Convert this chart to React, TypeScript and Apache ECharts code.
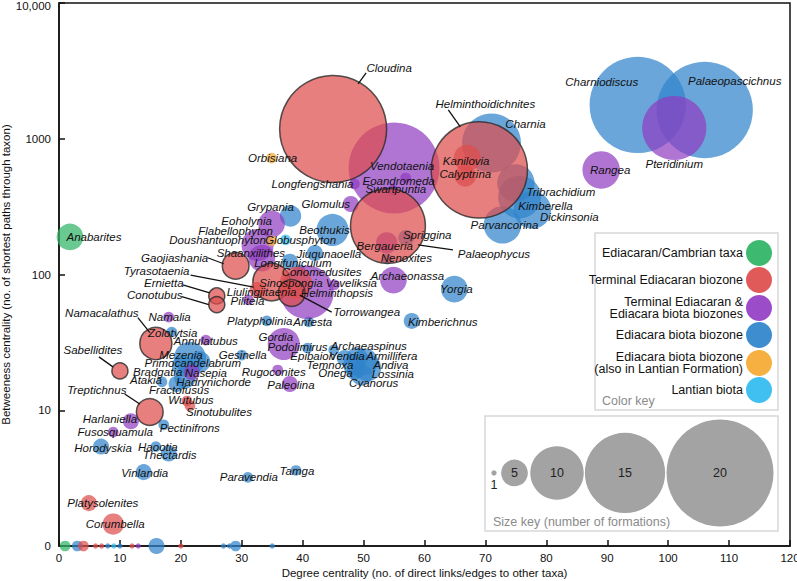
import React, { useEffect, useRef } from "react";
import * as echarts from "echarts";

// ---------- DATA ----------
// [name, degree centrality, betweenness centrality, number of formations]
type Taxon = [string, number, number, number];

const groupNames = [
  "Ediacaran/Cambrian taxa",
  "Terminal Ediacaran biozone",
  "Terminal Ediacaran &\nEdiacara biota biozones",
  "Ediacara biota biozone",
  "Ediacara biota biozone\n(also in Lantian Formation)",
  "Lantian biota",
];
const groupColors = ["#3dba6f", "#e05a5a", "#9b4cc8", "#3d8dcf", "#f5b041", "#3fc0f0"];
const groupFill = [
  "rgba(52,182,104,0.92)",
  "rgba(222,78,78,0.9)",
  "rgba(143,60,192,0.88)",
  "rgba(48,132,202,0.9)",
  "rgba(245,172,55,0.92)",
  "rgba(55,188,240,0.92)",
];

const ediacaranCambrian: Taxon[] = [
  ["Anabarites", 1.8, 189, 5],
  ["", 1, 0, 2],
];

const terminalEdiacaran: Taxon[] = [
  ["Cloudina", 45, 1180, 20],
  ["Helminthoidichnites", 69, 589, 18],
  ["Palaeophycus", 54, 228, 14],
  ["Kanilovia", 67, 721, 5],
  ["Calyptrina", 66.7, 532, 4],
  ["Gaojiashania", 29, 116, 5],
  ["Tyrasotaenia", 34.9, 88, 7],
  ["Sinospongia", 38.9, 87, 6],
  ["Torrowangea", 38.2, 73, 5],
  ["Liulingjitaenia", 32.6, 77, 3],
  ["Ernietta", 25.9, 69.5, 3],
  ["Conotubus", 25.9, 60, 3],
  ["Namacalathus", 15.9, 31, 6],
  ["Wutubus", 21, 11.7, 2],
  ["Sinotubulites", 21.5, 10.8, 2],
  ["Sabellidites", 10, 19.5, 3],
  ["Treptichnus", 14.9, 9.7, 5],
  ["Platysolenites", 4.9, 2.07, 3],
  ["Corumbella", 8.9, 1.45, 4],
  ["", 4, 0, 2],
  ["", 6, 0, 1],
  ["", 7, 0, 1],
  ["", 12, 0, 1],
  ["", 20, 0, 1],
];

const terminalAndEdiacara: Taxon[] = [
  ["Vendotaenia", 55, 609, 17],
  ["Pteridinium", 101, 1200, 12],
  ["Rangea", 89, 589, 7],
  ["Eoandromeda", 56.9, 514, 2],
  ["Swartpuntia", 54.8, 419, 2],
  ["Longfengshania", 48.5, 464, 2],
  ["Glomulus", 47.9, 331, 3],
  ["Bergaueria", 53.8, 171, 4],
  ["Eoholynia", 34.9, 236, 5],
  ["Flabellophyton", 32.6, 165, 6],
  ["Shaanxilithes", 33.3, 132, 5],
  ["Helminthopsis", 40.7, 74, 10],
  ["Vaveliksia", 45.2, 84, 2],
  ["Pilitela", 31.1, 65, 2],
  ["Namalia", 18, 48.6, 2],
  ["Annulatubus", 24.1, 32.9, 2],
  ["Archaeonassa", 54.9, 91, 5],
  ["Gordia", 36.9, 30.8, 6],
  ["Rugoconites", 35.9, 19.8, 2],
  ["Paleolina", 37.9, 15.6, 3],
  ["Nasepia", 21.8, 19.1, 3],
  ["Harlaniella", 11.8, 8.3, 3],
  ["Fusosquamula", 8.9, 6.9, 2],
  ["", 13, 0, 1],
];

const ediacaraBiota: Taxon[] = [
  ["Charniodiscus", 95, 1774, 18],
  ["Palaeopascichnus", 106, 1629, 18],
  ["Charnia", 71, 931, 11],
  ["Tribrachidium", 75, 472, 7],
  ["Kimberella", 75.6, 372, 8],
  ["Dickinsonia", 77.7, 299, 7],
  ["Parvancorina", 72.8, 232, 7],
  ["Spriggina", 57, 186, 3],
  ["Nenoxites", 53.9, 130, 2],
  ["Grypania", 38, 270, 4],
  ["Jiuqunaoella", 42, 144, 3],
  ["Beothukis", 44.9, 213, 6],
  ["Longifuniculum", 37.9, 124, 3],
  ["Conomedusites", 39.5, 108, 2],
  ["Zolotytsia", 18.5, 37.7, 2],
  ["Platypholinia", 34.1, 45.5, 2],
  ["Anfesta", 41, 44.7, 2],
  ["Kimberichnus", 57.9, 45.5, 3],
  ["Yorgia", 64.9, 78, 5],
  ["Podolimirus", 40.8, 28.7, 2],
  ["Archaeaspinus", 45.1, 27.8, 2],
  ["Epibaion", 46.9, 24.3, 3],
  ["Vendia", 48.9, 24.3, 4],
  ["Armillifera", 50.2, 22.7, 5],
  ["Temnoxa", 48.4, 21.5, 4],
  ["Andiva", 50.7, 20.5, 5],
  ["Onega", 48.5, 19.1, 3],
  ["Lossinia", 49.7, 18.2, 4],
  ["Cyanorus", 49.2, 19.1, 2],
  ["Gesinella", 30, 25.5, 2],
  ["Mezenia", 21.5, 24.3, 6],
  ["Primocandelabrum", 23.1, 22.7, 4],
  ["Bradgatia", 20.3, 21.2, 4],
  ["Atakia", 16.9, 16.2, 2],
  ["Hadrynichorde", 19.3, 15.6, 3],
  ["Fractofusus", 20.7, 17.3, 4],
  ["Pectinifrons", 17.2, 7.8, 2],
  ["Horodyskia", 6.9, 5.4, 3],
  ["Haootia", 15.9, 5.4, 2],
  ["Thectardis", 18, 4.8, 3],
  ["Vinlandia", 13.9, 3.5, 3],
  ["Paravendia", 31, 3.2, 2],
  ["Tamga", 38.9, 3.6, 2],
  ["", 3, 0, 2],
  ["", 8, 0, 1],
  ["", 10, 0, 1],
  ["", 16, 0, 3],
  ["", 27, 0, 1],
  ["", 28, 0, 1],
  ["", 29, 0, 2],
  ["", 35, 0, 1],
];

const ediacaraLantian: Taxon[] = [
  ["Orbisiana", 34.9, 721, 2],
  ["Doushantuophyton", 34.9, 177, 2],
];

const lantianBiota: Taxon[] = [
  ["Globusphyton", 37.2, 180, 2],
  ["", 9, 0, 1],
];

const xTicks = [0, 120, 10];
const yTickLabels: Record<number, string> = { 1: "0", 10: "10", 100: "100", 1000: "1000", 10000: "10,000" };
const sizeKeyValues = [1, 5, 10, 15, 20];

// ---------- LABEL PLACEMENT (pixel offsets of label centre from bubble centre) ----------
const labelOffset: Record<string, [number, number]> = {
  Charniodiscus: [-36, -23], Palaeopascichnus: [30, -29], Pteridinium: [0, 36], Rangea: [9, 0],
  Cloudina: [56, -61], Vendotaenia: [8, -2], Helminthoidichnites: [6, -66], Charnia: [34, -19],
  Kanilovia: [-1, 3], Calyptrina: [0, -2], Tribrachidium: [45, 9], Kimberella: [26, 9],
  Dickinsonia: [37, 7], Parvancorina: [2, 0], Palaeophycus: [106, 28], Spriggina: [21, -3],
  Bergaueria: [-2, 3], Nenoxites: [19, -1], Eoandromeda: [-7, 3], Swartpuntia: [3, -1],
  Longfengshania: [-42, 0], Glomulus: [-25, 0], Orbisiana: [1, 0], Grypania: [-20, -9],
  Eoholynia: [-25, -3], Flabellophyton: [-22, -14], Doushantuophyton: [-54, -1], Globusphyton: [15, 0],
  Shaanxilithes: [-11, -5], Gaojiashania: [-61, -8], Jiuqunaoella: [14, 1], Beothukis: [-8, 0],
  Longifuniculum: [3, 1], Conomedusites: [22, 2], Tyrasotaenia: [-115, -11], Sinospongia: [-5, 0],
  Helminthopsis: [30, 1], Torrowangea: [75, 19], Vaveliksia: [17, -2], Liulingjitaenia: [4, 2],
  Pilitela: [-1, 1], Ernietta: [-53, -13], Conotubus: [-62, -10], Namacalathus: [-54, -31],
  Namalia: [1, 0], Zolotytsia: [1, 1], Annulatubus: [0, 1], Platypholinia: [-7, 0], Anfesta: [4, 0],
  Kimberichnus: [31, 1], Yorgia: [2, 0], Archaeonassa: [14, -4], Gordia: [-8, -7], Podolimirus: [-10, -1],
  Archaeaspinus: [35, -4], Epibaion: [-32, -2], Vendia: [-10, -2], Armillifera: [27, -6], Temnoxa: [-24, 0],
  Andiva: [23, -3], Onega: [-19, 1], Lossinia: [31, -1], Cyanorus: [15, 11], Rugoconites: [-4, 2],
  Paleolina: [1, 1], Gesinella: [1, 0], Mezenia: [-9, -3], Primocandelabrum: [-7, 1], Bradgatia: [-25, 6],
  Nasepia: [14, 1], Atakia: [-16, -2], Hadrynichorde: [37, -2], Fractofusus: [-6, 12], Wutubus: [4, -1],
  Sinotubulites: [29, 6], Sabellidites: [-27, -21], Treptichnus: [-53, -22], Harlaniella: [-21, -2],
  Pectinifrons: [26, 3], Fusosquamula: [2, 0], Horodyskia: [2, 1], Haootia: [2, 0], Thectardis: [1, 1],
  Vinlandia: [1, 1], Paravendia: [1, 0], Tamga: [1, 1], Platysolenites: [14, 0], Corumbella: [2, 0],
  Anabarites: [24, 0],
};
// leader lines: [x1, y1, x2, y2] relative to bubble centre
const leaderLines: Record<string, [number, number, number, number]> = {
  Cloudina: [25, -45, 33, -56],
  Helminthoidichnites: [-19, -43, -31, -60],
  Palaeophycus: [30, 19, 65, 24],
  Gaojiashania: [-12, -2, -28, -8],
  Tyrasotaenia: [-18, 5, -81, -7],
  Torrowangea: [8, 2, 40, 19],
  Ernietta: [-7, -3, -34, -11],
  Conotubus: [-8, 0, -35, -8],
  Namacalathus: [-6, -11, -18, -26],
  Sabellidites: [-7, -4, -21, -14],
  Treptichnus: [-10, -8, -25, -18],
};
const outlined = new Set(Object.keys(leaderLines));

const FONT = '"Liberation Sans", Arial, Helvetica, sans-serif';
const sizeOf = (n: number) => n * 5.35;

export default function App() {
  const ref = useRef<HTMLDivElement>(null);
  useEffect(() => {
    if (!ref.current) return;
    const chart = echarts.init(ref.current, undefined, { renderer: "svg" });
    const groups = [ediacaranCambrian, terminalEdiacaran, terminalAndEdiacara, ediacaraBiota, ediacaraLantian, lantianBiota];
    const drawOrder = [3, 2, 1, 0, 4, 5];

    const scatterSeries = drawOrder.map((g) => ({
      type: "scatter",
      name: groupNames[g],
      clip: false,
      symbolSize: (v: number[]) => sizeOf(v[2]),
      itemStyle: { color: groupFill[g] },
      emphasis: { disabled: true },
      data: groups[g].map((t) => ({
        name: t[0],
        value: [t[1], Math.max(t[2], 1), t[3]],
        itemStyle: outlined.has(t[0]) ? { borderColor: "#2a2a2a", borderWidth: 1.5 } : undefined,
      })),
    }));

    const labelled = groups.flat().filter((t) => t[0] !== "");
    const labelSeries = {
      type: "custom",
      z: 10,
      silent: true,
      clip: false,
      encode: { x: 0, y: 1 },
      data: labelled.map((t) => [t[1], Math.max(t[2], 1)]),
      renderItem: (params: any, api: any) => {
        const t = labelled[params.dataIndex];
        const c = api.coord([api.value(0), api.value(1)]);
        const off = labelOffset[t[0]] || [0, 0];
        const children: any[] = [];
        const l = leaderLines[t[0]];
        if (l) {
          children.push({
            type: "line",
            shape: { x1: c[0] + l[0], y1: c[1] + l[1], x2: c[0] + l[2], y2: c[1] + l[3] },
            style: { stroke: "#111", lineWidth: 1.3 },
          });
        }
        children.push({
          type: "text",
          x: c[0] + off[0],
          y: c[1] + off[1],
          style: {
            text: t[0],
            font: `italic 11.5px ${FONT}`,
            fill: "#111",
            align: "center",
            verticalAlign: "middle",
          },
        });
        return { type: "group", children };
      },
    };

    // legend graphics
    const graphics: any[] = [];
    const ck = { x: 595, y: 233, w: 183, h: 177 };
    graphics.push({ type: "rect", shape: { x: ck.x, y: ck.y, width: ck.w, height: ck.h }, style: { fill: "#fff", stroke: "#d8d8d8", lineWidth: 1.5 }, z: 20 });
    const keyYs = [253, 280, 308, 335, 363, 390];
    groupNames.forEach((g, i) => {
      graphics.push({ type: "circle", shape: { cx: 759, cy: keyYs[i], r: 13 }, style: { fill: groupColors[i] }, z: 21 });
      graphics.push({
        type: "text", x: 743, y: keyYs[i], z: 21,
        style: { text: g, font: `12.5px ${FONT}`, fill: "#111", align: "right", verticalAlign: "middle", lineHeight: 12 },
      });
    });
    graphics.push({ type: "text", x: 602, y: 401, z: 21, style: { text: "Color key", font: `12.5px ${FONT}`, fill: "#8a8a8a", verticalAlign: "middle" } });

    const sk = { x: 485, y: 416, w: 293, h: 115 };
    graphics.push({ type: "rect", shape: { x: sk.x, y: sk.y, width: sk.w, height: sk.h }, style: { fill: "#fff", stroke: "#d8d8d8", lineWidth: 1.5 }, z: 20 });
    const skX = [494, 514.5, 557, 625, 720];
    sizeKeyValues.forEach((n, i) => {
      graphics.push({ type: "circle", shape: { cx: skX[i], cy: 473, r: sizeOf(n) / 2 }, style: { fill: "#a3a3a3" }, z: 21 });
      graphics.push({
        type: "text", x: skX[i], y: n === 1 ? 485 : 473, z: 22,
        style: { text: String(n), font: `12.5px ${FONT}`, fill: "#222", align: "center", verticalAlign: "middle" },
      });
    });
    graphics.push({ type: "text", x: 493, y: 522, z: 21, style: { text: "Size key (number of formations)", font: `12.5px ${FONT}`, fill: "#8a8a8a", verticalAlign: "middle" } });

    chart.setOption({
      animation: false,
      textStyle: { fontFamily: FONT },
      grid: {
        left: 59, right: 7, top: 3, bottom: 35, show: true, borderColor: "#111", borderWidth: 1.5,
        outerBoundsMode: "none", containLabel: false,
      },
      xAxis: {
        type: "value", min: xTicks[0], max: xTicks[1], interval: xTicks[2],
        name: "Degree centrality (no. of direct links/edges to other taxa)",
        nameLocation: "middle", nameGap: 21, nameMoveOverlap: false,
        nameTextStyle: { fontSize: 11.5, color: "#111" },
        axisLine: { show: true, lineStyle: { color: "#111", width: 1.5 } },
        axisTick: { show: true, inside: true, length: 6, lineStyle: { color: "#111", width: 1.5 } },
        axisLabel: { fontSize: 11.5, color: "#111", margin: 6 },
        splitLine: { show: false },
      },
      yAxis: {
        type: "log", logBase: 10, min: 1, max: 10000,
        name: "Betweeness centrality (no. of shortest paths through taxon)",
        nameLocation: "middle", nameGap: 47, nameMoveOverlap: false,
        nameTextStyle: { fontSize: 11.5, color: "#111" },
        axisLine: { show: true, lineStyle: { color: "#111", width: 1.5 } },
        axisTick: { show: true, inside: true, length: 6, lineStyle: { color: "#111", width: 1.5 } },
        axisLabel: {
          fontSize: 11.5, color: "#111", margin: 8,
          formatter: (v: number) => {
            const r = Math.round(v);
            const s = yTickLabels[r] ?? String(r);
            return r >= 10000 ? `{top|${s}}` : s;
          },
          rich: { top: { fontSize: 11.5, color: "#111", padding: [6, 0, 0, 0] } },
        },
        splitLine: { show: false },
      },
      series: [...scatterSeries, labelSeries],
      graphic: graphics,
    });
    return () => chart.dispose();
  }, []);
  return <div ref={ref} style={{ position: "fixed", left: 0, top: 0, width: 797, height: 581, background: "#fff" }} />;
}
